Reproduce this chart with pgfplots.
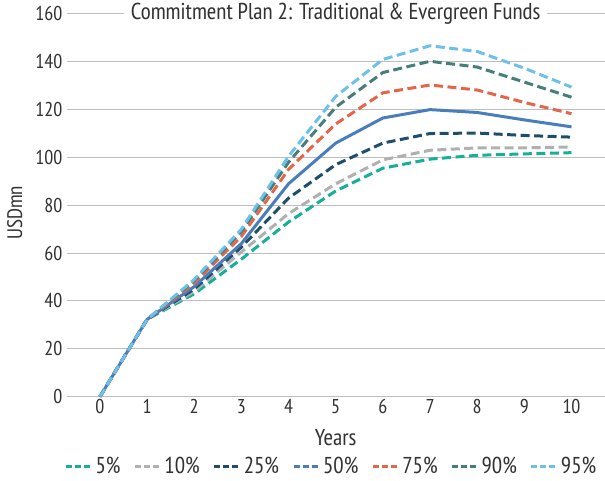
\documentclass[border=0pt]{standalone}
\usepackage{pgfplots}
\pgfplotsset{compat=1.18}
\usepackage{fontspec}
\setmainfont{PT Sans Narrow}
\definecolor{c5}{RGB}{22,176,152}
\definecolor{c10}{RGB}{176,176,176}
\definecolor{c25}{RGB}{30,78,106}
\definecolor{c50}{RGB}{74,126,186}
\definecolor{c75}{RGB}{226,102,74}
\definecolor{c90}{RGB}{72,126,122}
\definecolor{c95}{RGB}{110,192,236}
\definecolor{gridc}{RGB}{190,190,190}
\definecolor{txt}{RGB}{50,50,50}
\begin{document}
\begin{tikzpicture}
\begin{axis}[
  scale only axis, width=538pt, height=383pt,
  xmin=-0.7, xmax=10.7, ymin=0, ymax=160,
  xtick={0,...,10}, ytick={0,20,...,160},
  axis line style={draw=none}, tick style={draw=none},
  ymajorgrids, grid style={gridc, line width=1pt},
  /pgf/number format/assume math mode=true,
  tick label style={font=\fontsize{20}{22}\selectfont, text=txt},
  xticklabel style={yshift=1pt},
  yticklabel style={xshift=-1pt},
  xlabel={Years}, ylabel={USDmn},
  label style={text=txt},
  xlabel style={font=\fontsize{23}{25}\selectfont, at={(axis description cs:0.5,-0.107)}, anchor=center},
  ylabel style={font=\fontsize{21}{23}\selectfont, at={(axis description cs:-0.097,0.48)}, anchor=center, rotate=0},
  legend columns=7,
  legend style={at={(0.492,-0.182)}, anchor=center, draw=none, font=\fontsize{23}{25}\selectfont, text=txt,
    inner xsep=0pt, inner ysep=3pt,
    /tikz/every even column/.append style={column sep=11pt},
    /tikz/every odd column/.append style={column sep=2pt}},
  legend image code/.code={\draw[#1, dash pattern=on 6pt off 3pt, line width=3pt] (0pt,0pt) -- (24pt,0pt);},
  every axis plot/.append style={line width=3pt, dash pattern=on 9pt off 4.5pt},
  clip=false,
]
\addplot[c5] coordinates {(0,0) (1,32.3) (2,43) (3,57.5) (4,73) (5,86) (6,95.5) (7,99.3) (8,100.9) (9,101.5) (10,102)};
\addlegendentry{5\%}
\addplot[c10] coordinates {(0,0) (1,32.3) (2,44) (3,60.5) (4,76.5) (5,89) (6,99) (7,103) (8,104) (9,104) (10,104.4)};
\addlegendentry{10\%}
\addplot[c25] coordinates {(0,0) (1,32.3) (2,45) (3,62.5) (4,83) (5,97) (6,106) (7,110) (8,110.2) (9,109.2) (10,108.5)};
\addlegendentry{25\%}
\addplot[c50, solid] coordinates {(0,0) (1,32.3) (2,46) (3,64) (4,89) (5,106) (6,116.5) (7,120) (8,118.8) (9,115.7) (10,112.8)};
\addlegendentry{50\%}
\addplot[c75] coordinates {(0,0) (1,32.3) (2,47.5) (3,67) (4,95) (5,114) (6,127) (7,130.3) (8,128.2) (9,123) (10,118.3)};
\addlegendentry{75\%}
\addplot[c90] coordinates {(0,0) (1,32.3) (2,48.5) (3,69) (4,98) (5,121) (6,135.5) (7,140.2) (8,137.8) (9,131.5) (10,125.2)};
\addlegendentry{90\%}
\addplot[c95] coordinates {(0,0) (1,32.3) (2,49) (3,70) (4,100.5) (5,125.5) (6,141) (7,146.7) (8,144.3) (9,137.3) (10,129.4)};
\addlegendentry{95\%}
\node[fill=white, inner xsep=7pt, font=\fontsize{23}{25}\selectfont, text=txt] at (axis cs:5,160) {Commitment Plan 2: Traditional \& Evergreen Funds};
\path (axis description cs:-0.1245,0.5);
\end{axis}
\end{tikzpicture}
\end{document}
